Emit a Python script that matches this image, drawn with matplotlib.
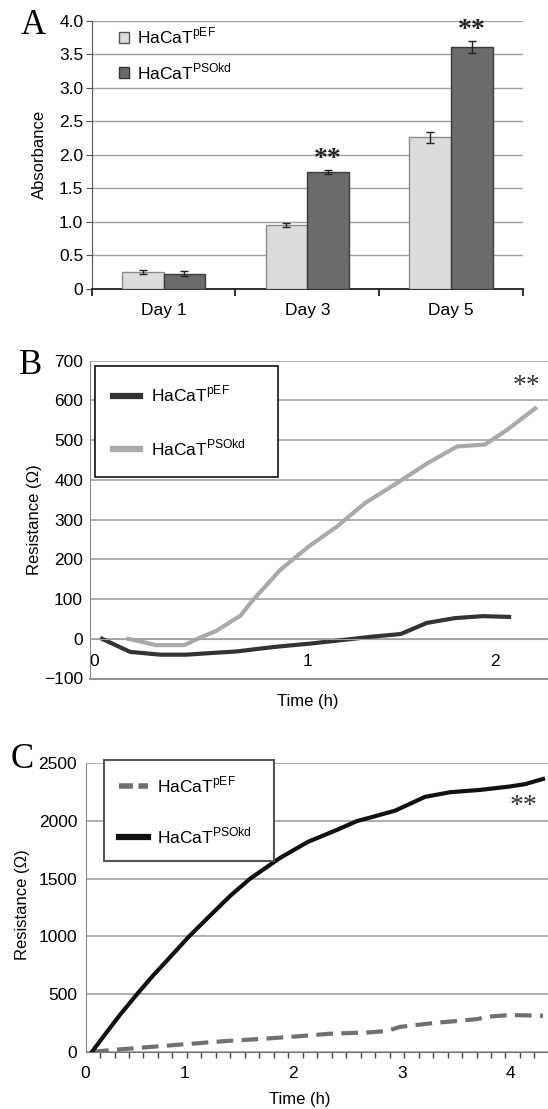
import numpy as np
import matplotlib.pyplot as plt
from matplotlib.patches import Patch
from matplotlib.lines import Line2D

plt.rcParams['font.family'] = ['Liberation Sans', 'DejaVu Sans']
plt.rcParams['mathtext.fontset'] = 'custom'
plt.rcParams['mathtext.rm'] = 'Liberation Sans'

# --- Panel A: absorbance (bars) ---
days = ['Day 1', 'Day 3', 'Day 5']
abs_pef = [0.25, 0.95, 2.26]
abs_pef_err = [0.03, 0.03, 0.08]
abs_psokd = [0.23, 1.74, 3.61]
abs_psokd_err = [0.04, 0.03, 0.09]
stars_a = ['', '**', '**']

# --- Panel B: resistance over time (h) ---
t_b_pef = [0.04, 0.18, 0.33, 0.46, 0.58, 0.71, 0.84, 0.91, 1.08, 1.26, 1.38,
           1.53, 1.66, 1.80, 1.94, 2.07]
r_b_pef = [0, -33, -40, -40, -36, -32, -24, -20, -12, -2, 5, 12, 40, 52, 57, 55]
t_b_psokd = [0.17, 0.31, 0.45, 0.53, 0.61, 0.73, 0.79, 0.93, 1.07, 1.21, 1.35,
             1.52, 1.66, 1.81, 1.95, 2.06, 2.20]
r_b_psokd = [0, -16, -16, 3, 20, 58, 96, 174, 232, 282, 341, 395, 441, 484,
             489, 526, 580]

# --- Panel C: resistance over time (h) ---
t_c_pef = [0.147, 0.405, 0.746, 1.142, 1.418, 1.694, 2.063, 2.339, 2.707,
           2.864, 2.983, 3.324, 3.536, 3.692, 3.812, 3.996, 4.300]
r_c_pef = [0, 20, 46, 75, 95, 110, 135, 156, 168, 180, 215, 252, 268, 283,
           305, 318, 312]
t_c_psokd = [0.147, 0.267, 0.405, 0.562, 0.709, 0.866, 1.041, 1.234, 1.418,
             1.602, 1.878, 2.136, 2.394, 2.587, 2.707, 2.937, 3.076, 3.214,
             3.444, 3.720, 3.996, 4.134, 4.300]
r_c_psokd = [0, 150, 320, 500, 660, 820, 1000, 1180, 1350, 1500, 1680, 1820,
             1920, 2000, 2030, 2090, 2150, 2210, 2250, 2270, 2300, 2320, 2365]

lab_pef = r'HaCaT$^{\mathregular{pEF}}$'
lab_psokd = r'HaCaT$^{\mathregular{PSOkd}}$'

W, H = 548, 1109
fig = plt.figure(figsize=(W / 100, H / 100), dpi=100)


def box(left, top, right, bottom):
    return [left / W, 1 - bottom / H, (right - left) / W, (bottom - top) / H]


grid_c = '#a0a0a0'
fs = 12.5

# ---------------- A ----------------
axA = fig.add_axes(box(91.6, 20.7, 523, 289))
x = np.arange(len(days))
w = 0.29
err_kw = dict(ecolor='#222222', elinewidth=1, capthick=1)
axA.bar(x - w / 2, abs_pef, w, yerr=abs_pef_err, capsize=3, color='#dcdcdc',
        edgecolor='#8c8c8c', lw=1, error_kw=err_kw, zorder=3)
axA.bar(x + w / 2, abs_psokd, w, yerr=abs_psokd_err, capsize=3,
        color='#6b6b6b', edgecolor='#3c3c3c', lw=1, error_kw=err_kw, zorder=3)
for i, s in enumerate(stars_a):
    if s:
        axA.text(x[i] + w / 2, abs_psokd[i] + abs_psokd_err[i] + 0.16, s,
                 ha='center', va='center', fontsize=20, fontweight='bold',
                 family='Liberation Serif', color='#222222')
axA.set_xlim(-0.5, 2.5)
axA.set_ylim(0, 4)
yt = np.arange(0, 4.01, 0.5)
axA.set_yticks(yt)
axA.set_yticklabels(['0'] + ['%.1f' % v for v in yt[1:]], fontsize=fs)
axA.set_xticks(x)
axA.set_xticklabels(days, fontsize=fs)
axA.set_xticks([-0.5, 0.5, 1.5, 2.5], minor=True)
axA.tick_params(axis='x', which='major', length=0, pad=10)
axA.tick_params(axis='x', which='minor', length=5, width=1.3, color='#222222')
axA.tick_params(axis='y', length=4, pad=2, color='#555555')
axA.yaxis.grid(True, color=grid_c, lw=1)
axA.set_axisbelow(True)
for s in ['top', 'right']:
    axA.spines[s].set_visible(False)
axA.spines['left'].set_color('#555555')
axA.spines['bottom'].set_color('#222222')
axA.spines['bottom'].set_linewidth(1.3)
axA.set_ylabel('Absorbance', fontsize=12)
axA.yaxis.set_label_coords(-0.103, 0.5)
hA = [Patch(facecolor='#dcdcdc', edgecolor='#555555', label=lab_pef),
      Patch(facecolor='#6b6b6b', edgecolor='#333333', label=lab_psokd)]
axA.legend(handles=hA, loc='upper left', bbox_to_anchor=(119 / W, 1 - 26 / H),
           bbox_transform=fig.transFigure, frameon=False, fontsize=fs,
           handlelength=0.6, handleheight=0.6, handletextpad=0.45,
           labelspacing=0.85, borderpad=0, borderaxespad=0)
fig.text(33 / W, 1 - 25 / H, 'A', ha='center', va='center', fontsize=25,
         family='Liberation Serif')

# ---------------- B ----------------
axB = fig.add_axes(box(90, 360.7, 548, 678.5))
for s in ['top', 'right']:
    axB.spines[s].set_visible(False)
axB.spines['left'].set_color('#8a8a8a')
axB.spines['bottom'].set_position(('data', 0))
axB.spines['bottom'].set_color(grid_c)
axB.plot(t_b_pef, r_b_pef, color='#333333', lw=3)
axB.plot(t_b_psokd, r_b_psokd, color='#aaaaaa', lw=3)
axB.set_xlim(-0.02, 2.264)
axB.set_ylim(-100, 700)
axB.set_yticks(range(-100, 701, 100))
axB.tick_params(axis='y', length=0, pad=5, labelsize=fs)
axB.set_xticks([0, 1.067, 2])
axB.set_xticklabels(['0', '1', '2'], fontsize=fs)
axB.tick_params(axis='x', length=0, pad=11, labelsize=fs)
axB.yaxis.grid(True, color=grid_c, lw=1.2)
axB.set_axisbelow(True)
axB.axhline(-100, color='#8a8a8a', lw=1.3, clip_on=False)
axB.set_ylabel('Resistance (Ω)', fontsize=12)
axB.yaxis.set_label_coords(-0.105, 0.5)
axB.set_xlabel('Time (h)', fontsize=12)
axB.xaxis.set_label_coords(0.476, -0.05)
axB.text(2.155, 636, '**', ha='center', va='center', fontsize=20,
         family='Liberation Serif', color='#333333')
hB = [Line2D([], [], color='#333333', lw=4.5, label=lab_pef),
      Line2D([], [], color='#aaaaaa', lw=4.5, label=lab_psokd)]
legB = axB.legend(handles=hB, loc='upper left', mode='expand',
                  bbox_to_anchor=(95 / W, 1 - 473 / H, 183 / W, 107 / H),
                  bbox_transform=fig.transFigure, fontsize=fs, fancybox=False,
                  edgecolor='#111111', framealpha=1, borderpad=1.05,
                  labelspacing=1.9, handlelength=1.55, handletextpad=0.6,
                  borderaxespad=0)
legB.get_frame().set_linewidth(1.2)
fig.text(30.5 / W, 1 - 366 / H, 'B', ha='center', va='center', fontsize=25,
         family='Liberation Serif')

# ---------------- C ----------------
axC = fig.add_axes(box(85.5, 763.4, 548, 1051.7))
axC.plot(t_c_pef, r_c_pef, color='#707070', lw=3, dashes=(4, 2))
axC.plot(t_c_psokd, r_c_psokd, color='#111111', lw=3)
axC.set_xlim(0.087, 4.346)
axC.set_ylim(0, 2500)
axC.set_yticks(range(0, 2501, 500))
axC.tick_params(axis='y', length=0, pad=6, labelsize=fs)
axC.set_xticks([0.087, 1, 2, 3, 4])
axC.set_xticklabels(['0', '1', '2', '3', '4'], fontsize=fs)
axC.set_xticks(np.arange(0.221, 4.34, 2 / 15), minor=True)
axC.tick_params(axis='x', which='major', length=0, pad=10)
axC.tick_params(axis='x', which='minor', length=4, width=1, color='#444444')
axC.yaxis.grid(True, color=grid_c, lw=1.2)
axC.set_axisbelow(True)
for s in ['top', 'right']:
    axC.spines[s].set_visible(False)
axC.spines['left'].set_color('#8a8a8a')
axC.spines['bottom'].set_color('#777777')
axC.set_ylabel('Resistance (Ω)', fontsize=12)
axC.yaxis.set_label_coords(-0.12, 0.509)
axC.set_xlabel('Time (h)', fontsize=12)
axC.xaxis.set_label_coords(0.464, -0.14)
axC.text(4.116, 2125, '**', ha='center', va='center', fontsize=20,
         family='Liberation Serif', color='#333333')
hC = [Line2D([], [], color='#707070', lw=4, dashes=(2.5, 1), label=lab_pef),
      Line2D([], [], color='#111111', lw=4.5, label=lab_psokd)]
legC = axC.legend(handles=hC, loc='upper left', mode='expand',
                  bbox_to_anchor=(104 / W, 1 - 859 / H, 170 / W, 99 / H),
                  bbox_transform=fig.transFigure, fontsize=fs, fancybox=False,
                  edgecolor='#555555', framealpha=1, borderpad=0.85,
                  labelspacing=1.75, handlelength=1.7, handletextpad=0.5,
                  borderaxespad=0)
legC.get_frame().set_linewidth(1.5)
fig.text(22 / W, 1 - 760 / H, 'C', ha='center', va='center', fontsize=25,
         family='Liberation Serif')

fig.savefig('out.png', dpi=100)
